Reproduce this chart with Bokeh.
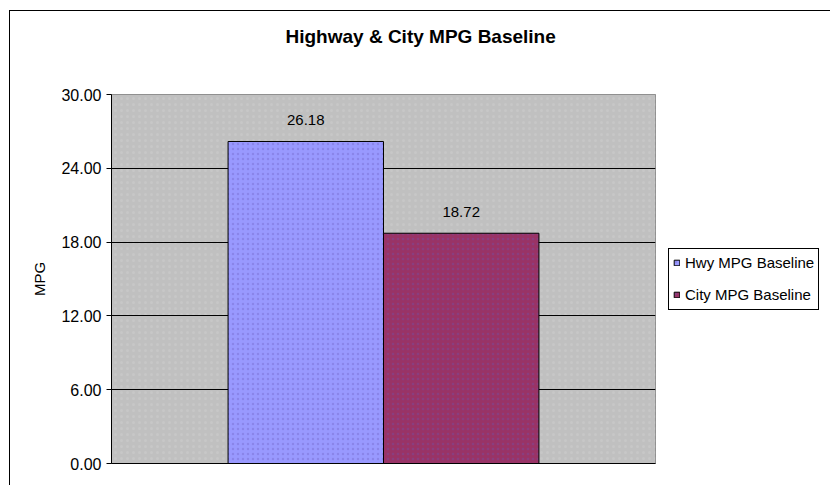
from bokeh.plotting import figure
from bokeh.models import (ColumnDataSource, Range1d, FixedTicker, NumeralTickFormatter,
                          Legend, LegendItem, LabelSet, Title)
from bokeh.core.properties import value
from bokeh.embed import file_html
from bokeh.resources import INLINE

# ---- data ----
series = ["Hwy MPG Baseline", "City MPG Baseline"]
values = [26.18, 18.72]
colors = ["#9999FF", "#993366"]
labels = ["26.18", "18.72"]
y_ticks = [0, 6, 12, 18, 24, 30]
title_text = "Highway & City MPG Baseline"

FONT = "Liberation Sans"

# bar positions in units of bar width (Excel gap width 150%)
xpos = [1.25 + i for i in range(len(series))]

src = ColumnDataSource(dict(x=xpos, top=values, color=colors, name=series, label=labels))

p = figure(frame_width=544, frame_height=369, output_backend="svg", toolbar_location=None,
           x_range=Range1d(0, 3.5), y_range=Range1d(0, 30),
           min_border_left=101, min_border_right=172, min_border_top=83, min_border_bottom=22)
p.styles = {"border-left": "1px solid #000", "border-top": "1px solid #000",
            "margin-left": "9px", "margin-top": "10px"}

p.background_fill_color = "#C0C0C0"
p.border_fill_color = "#FFFFFF"

# plot area background texture (faint dots)
p.quad(left=[0], right=[3.5], bottom=[0], top=[30], fill_color="#C0C0C0",
       hatch_pattern="dot", hatch_color="#D6D6D6", hatch_scale=6, hatch_alpha=0.3,
       line_color=None, level="underlay")

p.outline_line_color = "#808080"
p.outline_line_width = 1

# grid
p.xgrid.visible = False
p.ygrid.ticker = FixedTicker(ticks=y_ticks[1:-1])
p.ygrid.grid_line_color = "#000000"
p.ygrid.grid_line_width = 1
p.ygrid.level = "underlay"

bars = p.vbar(x="x", top="top", width=1.0, bottom=0, source=src,
              fill_color="color", line_color="#000000", line_width=1,
              hatch_pattern="dot", hatch_color="#6655BB", hatch_scale=5, hatch_alpha=0.3)

lbls = LabelSet(x="x", y="top", text="label", source=src, text_align="center",
                text_baseline="middle", y_offset=21, text_font_size="15px",
                text_font=value(FONT), text_color="#000000")
p.add_layout(lbls)

# axes
p.yaxis.ticker = FixedTicker(ticks=y_ticks)
p.yaxis.formatter = NumeralTickFormatter(format="0.00")
p.yaxis.axis_label = "MPG"
p.yaxis.axis_label_text_font = FONT
p.yaxis.axis_label_text_font_size = "15px"
p.yaxis.axis_label_text_font_style = "normal"
p.yaxis.axis_label_text_color = "#000000"
p.yaxis.axis_label_standoff = 10
p.yaxis.major_label_text_font = FONT
p.yaxis.major_label_text_font_size = "16px"
p.yaxis.major_label_text_color = "#000000"
p.yaxis.major_tick_out = 5
p.yaxis.major_tick_in = 0
p.yaxis.minor_tick_out = 0
p.yaxis.minor_tick_in = 0
p.yaxis.axis_line_color = "#000000"
p.yaxis.major_tick_line_color = "#000000"
p.yaxis.major_label_standoff = 5

p.xaxis.major_tick_line_color = None
p.xaxis.minor_tick_line_color = None
p.xaxis.major_label_text_font_size = "0px"
p.xaxis.axis_line_color = "#000000"
p.xaxis.ticker = FixedTicker(ticks=[])

# real title (outermost) and a spacer title between it and the frame
p.title = Title(text=title_text, align="left", offset=174,
                text_font=FONT, text_font_size="19px", text_font_style="bold",
                text_color="#000000", standoff=0)
p.add_layout(Title(text=" ", text_font=FONT, text_font_size="19px", standoff=25), "above")

# legend
items = []
for i, s in enumerate(series):
    items.append(LegendItem(label=s, renderers=[bars], index=i))
legend = Legend(items=items, location="left", border_line_color="#000000",
                border_line_width=1, border_line_alpha=1.0,
                background_fill_color="#FFFFFF",
                label_text_font=FONT, label_text_font_size="15px",
                label_text_color="#000000",
                glyph_width=7, glyph_height=7, label_height=20, spacing=12,
                padding=4, margin=13, label_standoff=5)
p.add_layout(legend, "right")

open("out.html", "w").write(file_html(p, INLINE))
